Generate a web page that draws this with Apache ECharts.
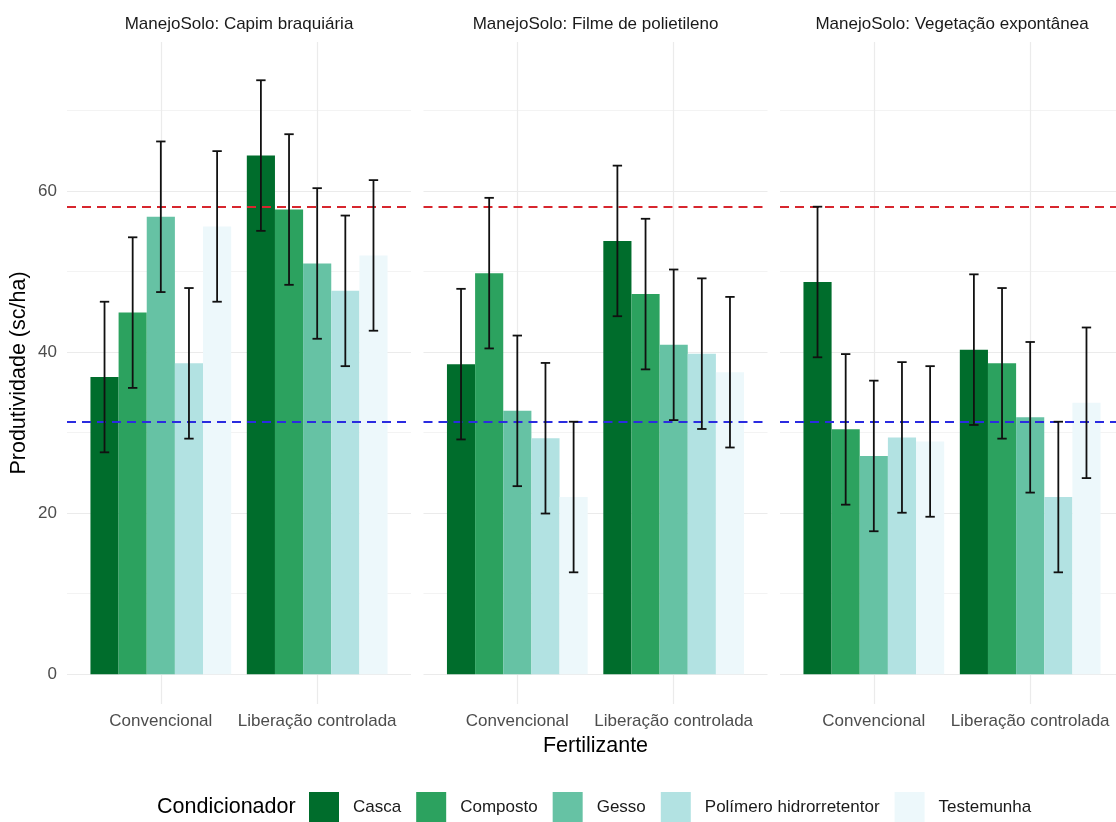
<!DOCTYPE html>
<html>
<head>
<meta charset="utf-8">
<script src="https://cdn.jsdelivr.net/npm/echarts@6/dist/echarts.min.js"></script>
<style>html,body{margin:0;padding:0;background:#fff}#c{width:1116px;height:822px}</style>
</head>
<body>
<div id="c"></div>
<script>
// ---------- data ----------
const CATEGORIAS = ['Convencional', 'Liberação controlada'];
const CONDICIONADORES = ['Casca', 'Composto', 'Gesso', 'Polímero hidrorretentor', 'Testemunha'];
const MANEJOS = ['Capim braquiária', 'Filme de polietileno', 'Vegetação expontânea'];
const CORES = ['#006d2c', '#2ca25f', '#66c2a4', '#b2e2e2', '#edf8fb'];
// values [Convencional, Liberação controlada] per condicionador
const CAPIM_CASCA = [36.9, 64.4];
const CAPIM_COMPOSTO = [44.9, 57.7];
const CAPIM_GESSO = [56.8, 51.0];
const CAPIM_POLIMERO = [38.6, 47.6];
const CAPIM_TESTEMUNHA = [55.6, 52.0];
const FILME_CASCA = [38.5, 53.8];
const FILME_COMPOSTO = [49.8, 47.2];
const FILME_GESSO = [32.7, 40.9];
const FILME_POLIMERO = [29.3, 39.8];
const FILME_TESTEMUNHA = [22.0, 37.5];
const VEG_CASCA = [48.7, 40.3];
const VEG_COMPOSTO = [30.4, 38.6];
const VEG_GESSO = [27.1, 31.9];
const VEG_POLIMERO = [29.4, 22.0];
const VEG_TESTEMUNHA = [28.9, 33.7];
const ERRO = 9.35;               // half-length of every error bar
const REF_SUPERIOR = 58.05;      // red dashed line
const REF_INFERIOR = 31.3;       // blue dashed line
const Y_TICKS = [0, 20, 40, 60];
const Y_MINOR = [10, 30, 50, 70];

const VALORES = [
  [CAPIM_CASCA, CAPIM_COMPOSTO, CAPIM_GESSO, CAPIM_POLIMERO, CAPIM_TESTEMUNHA],
  [FILME_CASCA, FILME_COMPOSTO, FILME_GESSO, FILME_POLIMERO, FILME_TESTEMUNHA],
  [VEG_CASCA, VEG_COMPOSTO, VEG_GESSO, VEG_POLIMERO, VEG_TESTEMUNHA]
];

// ---------- layout ----------
const W = 1116;
const FONT = "'Liberation Sans', Arial, Helvetica, sans-serif";
const PANEL_LEFT = [67, 423.5, 780];
const PANEL_W = 344, PANEL_TOP = 42, PANEL_H = 662;
const X_SPAN = 2.2;   // 0.4 .. 2.6
const DODGE = 0.18, BAR_W = 0.18, CAP_W = 0.06;
const Y_MIN = -3.7, Y_MAX = 78.5;

const grids = [], xAxes = [], yAxes = [], series = [];

MANEJOS.forEach((m, p) => {
  const w = Math.min(PANEL_W, W - PANEL_LEFT[p]);   // last panel is cut by the image edge
  const xMax = 0.4 + X_SPAN * w / PANEL_W;
  grids.push({ left: PANEL_LEFT[p], top: PANEL_TOP, width: w, height: PANEL_H });
  xAxes.push({
    type: 'value', gridIndex: p, min: 0.4, max: xMax,
    axisLine: { show: false }, axisTick: { show: false }, splitLine: { show: false },
    axisLabel: {
      customValues: [1, 2], margin: 9, fontSize: 17, color: '#4d4d4d', fontFamily: FONT,
      formatter: v => CATEGORIAS[Math.round(v) - 1] || ''
    }
  });
  yAxes.push({
    type: 'value', gridIndex: p, min: Y_MIN, max: Y_MAX,
    axisLine: { show: false }, axisTick: { show: false }, splitLine: { show: false },
    axisLabel: p === 0 ? {
      customValues: Y_TICKS, margin: 10, fontSize: 17, color: '#4d4d4d', fontFamily: FONT
    } : { show: false }
  });

  // gridlines
  series.push({
    type: 'custom', xAxisIndex: p, yAxisIndex: p, data: [[1, 0]], silent: true, z: 0,
    renderItem: () => null,
    markLine: {
      silent: true, symbol: 'none', animation: false, z: 0, label: { show: false },
      data: [
        ...Y_MINOR.map(v => ({ yAxis: v, lineStyle: { color: '#eeeeee', width: 0.7, type: 'solid' } })),
        ...Y_TICKS.map(v => ({ yAxis: v, lineStyle: { color: '#ebebeb', width: 1.2, type: 'solid' } })),
        ...CATEGORIAS.map((c, i) => ({ xAxis: i + 1, lineStyle: { color: '#ebebeb', width: 1.2, type: 'solid' } }))
      ]
    }
  });

  // bars
  CONDICIONADORES.forEach((c, s) => {
    const off = (s - 2) * DODGE;
    series.push({
      type: 'custom', name: c, xAxisIndex: p, yAxisIndex: p, z: 2,
      itemStyle: { color: CORES[s] },
      data: VALORES[p][s].map((v, i) => [i + 1, v]),
      renderItem: (params, api) => {
        const x = api.value(0) + off;
        const v = api.value(1);
        const a = api.coord([x - BAR_W / 2, v]);
        const b = api.coord([x + BAR_W / 2, 0]);
        return { type: 'rect', shape: { x: a[0], y: a[1], width: b[0] - a[0], height: b[1] - a[1] },
                 style: { fill: CORES[s] } };
      }
    });
  });

  // error bars + reference lines
  const eb = [];
  CONDICIONADORES.forEach((c, s) => {
    VALORES[p][s].forEach((v, i) => {
      eb.push([i + 1 + (s - 2) * DODGE, v - ERRO, v + ERRO]);
    });
  });
  series.push({
    type: 'custom', name: 'erro', xAxisIndex: p, yAxisIndex: p, z: 5, silent: true,
    data: eb,
    encode: { x: 0, y: [1, 2] },
    renderItem: (params, api) => {
      const x = api.value(0), lo = api.value(1), hi = api.value(2);
      const t = api.coord([x, hi]), b = api.coord([x, lo]);
      const l = api.coord([x - CAP_W / 2, hi])[0], r = api.coord([x + CAP_W / 2, hi])[0];
      const st = { stroke: '#111111', lineWidth: 1.8 };
      return { type: 'group', children: [
        { type: 'line', shape: { x1: t[0], y1: t[1], x2: b[0], y2: b[1] }, style: st },
        { type: 'line', shape: { x1: l, y1: t[1], x2: r, y2: t[1] }, style: st },
        { type: 'line', shape: { x1: l, y1: b[1], x2: r, y2: b[1] }, style: st }
      ]};
    },
    markLine: {
      silent: true, symbol: 'none', animation: false, z: 4, label: { show: false },
      data: [
        { yAxis: REF_SUPERIOR, lineStyle: { color: '#d7262e', width: 2, type: [9, 6] } },
        { yAxis: REF_INFERIOR, lineStyle: { color: '#2b2be0', width: 2, type: [9, 6] } }
      ]
    }
  });
});

const graphics = MANEJOS.map((m, p) => ({
  type: 'text', x: PANEL_LEFT[p] + PANEL_W / 2, y: 24,
  style: { text: 'ManejoSolo: ' + m, textAlign: 'center', textVerticalAlign: 'middle',
           fontSize: 17, fill: '#1a1a1a', fontFamily: FONT }
}));
graphics.push({
  type: 'text', x: 19, y: PANEL_TOP + PANEL_H / 2, rotation: Math.PI / 2,
  style: { text: 'Produtividade (sc/ha)', textAlign: 'center', textVerticalAlign: 'middle',
           fontSize: 21.5, fill: '#000', fontFamily: FONT }
});
graphics.push({
  type: 'text', x: PANEL_LEFT[1] + PANEL_W / 2, y: 746,
  style: { text: 'Fertilizante', textAlign: 'center', textVerticalAlign: 'middle',
           fontSize: 21.5, fill: '#000', fontFamily: FONT }
});
graphics.push({
  type: 'text', x: 157, y: 807,
  style: { text: 'Condicionador', textAlign: 'left', textVerticalAlign: 'middle',
           fontSize: 21.5, fill: '#000', fontFamily: FONT }
});

const chart = echarts.init(document.getElementById('c'), null, { renderer: 'canvas' });
chart.setOption({
  animation: false,
  backgroundColor: '#ffffff',
  grid: grids, xAxis: xAxes, yAxis: yAxes, series,
  legend: {
    data: CONDICIONADORES, left: 309, top: 792, orient: 'horizontal',
    icon: 'rect', itemWidth: 30, itemHeight: 30, itemGap: 15, padding: 0,
    selectedMode: false,
    itemStyle: { borderWidth: 0 },
    textStyle: { fontSize: 17, color: '#1a1a1a', fontFamily: FONT, padding: [0, 0, 0, 9] }
  },
  graphic: graphics
});
</script>
</body>
</html>
